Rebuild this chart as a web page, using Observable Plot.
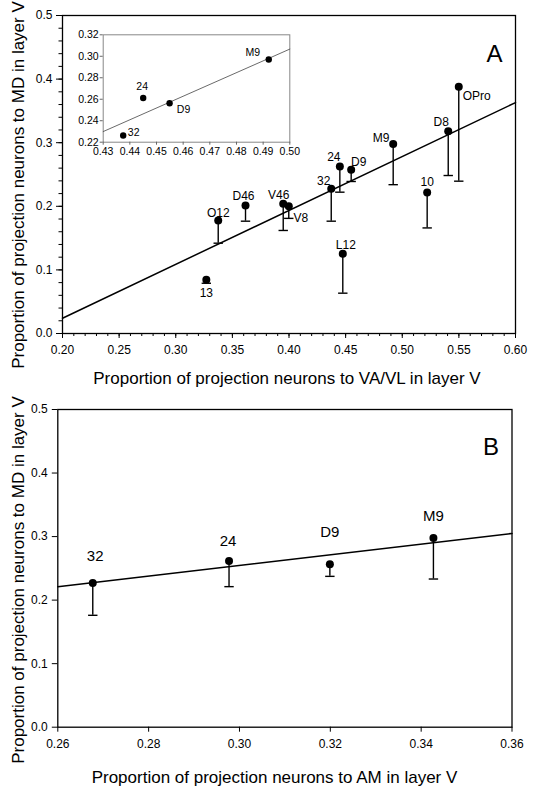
<!DOCTYPE html>
<html><head><meta charset="utf-8">
<script src="https://cdn.jsdelivr.net/npm/d3@7"></script>
<script src="https://cdn.jsdelivr.net/npm/@observablehq/plot@0.6"></script>
<style>
html,body{margin:0;padding:0;background:#fff;}
#wrap{position:relative;width:534px;height:795px;overflow:hidden;font-family:"Liberation Sans",Arial,sans-serif;}
#wrap svg{position:absolute;left:0;}
.title{position:absolute;white-space:nowrap;font-size:17px;line-height:1;color:#000;}
</style></head><body><div id="wrap"></div>
<script>
// ---------------- DATA ----------------
// Panel A: cortical areas
const areasA = ["13","O12","D46","V46","V8","32","24","D9","L12","M9","10","D8","OPro"];
const vavlA  = [0.327,0.3375,0.3616,0.3949,0.3998,0.4373,0.4449,0.4549,0.4475,0.492,0.522,0.5406,0.5499];
const mdA    = [0.0844,0.1777,0.2013,0.204,0.2000,0.2275,0.2626,0.2574,0.1253,0.2978,0.2216,0.318,0.388];
const mdLowA = [0.079,0.142,0.1766,0.162,0.181,0.1766,0.2222,0.239,0.0634,0.234,0.166,0.2484,0.2395];
const fitAx  = [0.20, 0.60];
const fitAy  = [0.024, 0.363];
const xTicksA = [0.20,0.25,0.30,0.35,0.40,0.45,0.50,0.55,0.60];
const yTicksA = [0.0,0.1,0.2,0.3,0.4,0.5];

// Inset of panel A
const areasIn = ["32","24","D9","M9"];
const vavlIn  = [0.4375,0.445,0.4549,0.4921];
const mdIn    = [0.2262,0.2612,0.2562,0.297];
const fitInx  = [0.43, 0.50];
const fitIny  = [0.2299, 0.3067];
const xTicksIn = [0.43,0.44,0.45,0.46,0.47,0.48,0.49,0.50];
const yTicksIn = [0.22,0.24,0.26,0.28,0.30,0.32];

// Panel B
const areasB = ["32","24","D9","M9"];
const amB    = [0.2677,0.2977,0.3199,0.3427];
const mdB    = [0.2269,0.2616,0.2563,0.2977];
const mdLowB = [0.1761,0.2212,0.2374,0.2332];
const fitBx  = [0.26, 0.36];
const fitBy  = [0.2212, 0.305];
const xTicksB = [0.26,0.28,0.30,0.32,0.34,0.36];
const yTicksB = [0.0,0.1,0.2,0.3,0.4,0.5];

const titleXA = "Proportion of projection neurons to VA/VL in layer V";
const titleXB = "Proportion of projection neurons to AM in layer V";
const titleY  = "Proportion of projection neurons to MD in layer V";

// ---------------- LAYOUT ----------------
const FONT = "'Liberation Sans', Arial, Helvetica, sans-serif";
const labelOffA = {"13":[0,13],"O12":[0,-7.5],"D46":[-2,-9],"V46":[-4.5,-9],"V8":[12,12],
  "32":[-7.5,-8],"24":[-6,-9],"D9":[7.5,-8],"L12":[3,-8.7],"M9":[-12,-6],"10":[0,-10],
  "D8":[-7,-8.7],"OPro":[18,9.7]};
const labelOffIn = {"32":[10.5,-3.3],"24":[-1,-11],"D9":[14,6],"M9":[-16,-7]};
const labelOffB = {"32":[2.4,-27],"24":[-1,-20],"D9":[0,-32],"M9":[0,-22]};

const cap = {draw(ctx, size){const r = Math.sqrt(size/Math.PI); ctx.moveTo(-r,0); ctx.lineTo(r,0);}};
const pairs = (xs, ys) => xs.map((x,i)=>[x, ys[i]]);

function errMarks(xs, ys, lows, labels, offs, fs) {
  const idx = d3.range(xs.length);
  return [
    Plot.ruleX(idx, {x: i=>xs[i], y1: i=>ys[i], y2: i=>lows[i], stroke:"#000", strokeWidth:1.4}),
    Plot.dot(idx, {x: i=>xs[i], y: i=>lows[i], symbol: cap, r: 4.7, stroke:"#000", strokeWidth:1.4, fill:"none"}),
    Plot.dot(idx, {x: i=>xs[i], y: i=>ys[i], r: 4, fill:"#000", stroke:"none"}),
    ...idx.map(i => Plot.text([i], {x: i=>xs[i], y: i=>ys[i], text: i=>labels[i],
        dx: offs[labels[i]][0], dy: offs[labels[i]][1], fontSize: fs, fill:"#000"}))
  ];
}

const wrap = document.getElementById("wrap");
function addTitle(text, cx, cy, rotate) {
  const d = document.createElement("div");
  d.className = "title";
  d.textContent = text;
  d.style.left = cx + "px";
  d.style.top = cy + "px";
  d.style.transform = "translate(-50%,-50%)" + (rotate ? " rotate(-90deg)" : "");
  wrap.appendChild(d);
}

// Panel A
const plotA = Plot.plot({
  width: 534, height: 400,
  marginTop: 15, marginLeft: 62, marginRight: 19, marginBottom: 67,
  x: {domain: [0.2, 0.6]}, y: {domain: [0, 0.5]},
  style: {fontFamily: FONT, background: "transparent", overflow: "visible", color: "#000"},
  marks: [
    Plot.axisX({ticks: 40, text: null, tickSize: 3, label: null}),
    Plot.axisX(xTicksA, {tickSize: 5, tickPadding: 7, fontSize: 12, tickFormat: ".2f", label: null}),
    Plot.axisY({ticks: 25, text: null, tickSize: 3.5, label: null}),
    Plot.axisY(yTicksA, {tickSize: 6, tickPadding: 4, fontSize: 12, tickFormat: ".1f", label: null}),
    Plot.line(pairs(fitAx, fitAy), {x: d=>d[0], y: d=>d[1], stroke:"#000", strokeWidth:1.5}),
    ...errMarks(vavlA, mdA, mdLowA, areasA, labelOffA, 12),
    Plot.frame({stroke:"#000", strokeWidth:1.3}),
    Plot.text(["A"], {text: d=>d, frameAnchor:"top-right", textAnchor:"end", dx: -13, dy: 29, fontSize: 24})
  ]
});
plotA.style.top = "0px";
wrap.appendChild(plotA);

// Inset
const plotIn = Plot.plot({
  width: 300, height: 160,
  marginTop: 34.3, marginLeft: 102.7, marginRight: 10.7, marginBottom: 18.3,
  x: {domain: [0.43, 0.50]}, y: {domain: [0.22, 0.32]},
  style: {fontFamily: FONT, background: "transparent", overflow: "visible", color: "#000"},
  marks: [
    Plot.frame({stroke:"#888", strokeWidth:1}),
    Plot.axisX(xTicksIn, {tickSize: 3, tickPadding: 2.5, fontSize: 10.5, tickFormat: ".2f", label: null, stroke:"#666"}),
    Plot.axisY(yTicksIn, {tickSize: 3, tickPadding: 1.5, fontSize: 10.5, tickFormat: ".2f", label: null, stroke:"#666"}),
    Plot.line(pairs(fitInx, fitIny), {x: d=>d[0], y: d=>d[1], stroke:"#444", strokeWidth:0.8}),
    Plot.dot(d3.range(vavlIn.length), {x: i=>vavlIn[i], y: i=>mdIn[i], r: 3.2, fill:"#000"}),
    ...d3.range(areasIn.length).map(i => Plot.text([i], {x: i=>vavlIn[i], y: i=>mdIn[i], text: i=>areasIn[i],
        dx: labelOffIn[areasIn[i]][0], dy: labelOffIn[areasIn[i]][1], fontSize: 10.5, fill:"#000"}))
  ]
});
plotIn.style.top = "0px";
wrap.appendChild(plotIn);

// Panel B
const plotB = Plot.plot({
  width: 534, height: 395,
  marginTop: 9, marginLeft: 57.3, marginRight: 22.5, marginBottom: 68.3,
  x: {domain: [0.26, 0.36]}, y: {domain: [0, 0.5]},
  style: {fontFamily: FONT, background: "transparent", overflow: "visible", color: "#000"},
  marks: [
    Plot.axisX(xTicksB, {tickSize: 5, tickPadding: 7, fontSize: 12, tickFormat: ".2f", label: null}),
    Plot.axisY(yTicksB, {tickSize: 5.5, tickPadding: 4.5, fontSize: 12, tickFormat: ".1f", label: null}),
    Plot.line(pairs(fitBx, fitBy), {x: d=>d[0], y: d=>d[1], stroke:"#000", strokeWidth:1.5}),
    ...errMarks(amB, mdB, mdLowB, areasB, labelOffB, 15),
    Plot.frame({stroke:"#000", strokeWidth:1.3}),
    Plot.text(["B"], {text: d=>d, frameAnchor:"top-right", textAnchor:"end", dx: -13, dy: 28.5, fontSize: 24})
  ]
});
plotB.style.top = "400px";
wrap.appendChild(plotB);

// Axis titles (real text, placed beside each panel)
addTitle(titleXA, 287, 378, false);
addTitle(titleY, 18.3, 185, true);
addTitle(titleXB, 274.5, 776.5, false);
addTitle(titleY, 18.4, 579.5, true);
</script></body></html>
